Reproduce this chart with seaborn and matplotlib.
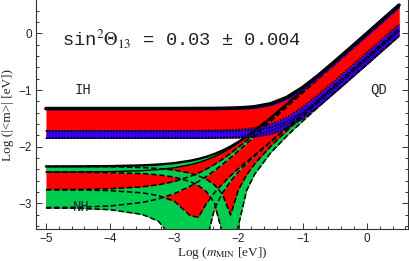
import matplotlib
matplotlib.use("Agg")
import matplotlib.pyplot as plt
from matplotlib.ticker import MultipleLocator
import numpy as np
import seaborn as sns

# log10 of the lightest neutrino mass [eV]
log_mmin = [-5, -4.5, -4, -3.5, -3.25, -3, -2.75, -2.625, -2.5, -2.375, -2.25, -2.125,
            -2, -1.875, -1.75, -1.5, -1.25, -1, -0.75, -0.5, -0.25, 0, 0.25, 0.5]

# inverted hierarchy, log10 <m> [eV]: upper band and lower band edges
ih_top_hi = [-1.3277, -1.3277, -1.3277, -1.3276, -1.3275, -1.3273, -1.3269, -1.3265, -1.3259, -1.3249,
             -1.3232, -1.3205, -1.3160, -1.3083, -1.2957, -1.2434, -1.1325, -0.9555, -0.7349, -0.4951,
             -0.2484, 0.0005, 0.2501, 0.5000]
ih_top_lo = [-1.3451, -1.3451, -1.3451, -1.3451, -1.3452, -1.3452, -1.3451, -1.3452, -1.3450, -1.3446,
             -1.3437, -1.3420, -1.3388, -1.3329, -1.3225, -1.2758, -1.1706, -0.9975, -0.7787, -0.5396,
             -0.2931, -0.0443, 0.2054, 0.4553]
ih_bot_hi = [-1.7200, -1.7200, -1.7199, -1.7195, -1.7191, -1.7184, -1.7170, -1.7158, -1.7142, -1.7118,
             -1.7084, -1.7033, -1.6957, -1.6842, -1.6668, -1.6028, -1.4800, -1.2952, -1.0712, -0.8301,
             -0.5830, -0.3340, -0.0843, 0.1656]
ih_bot_lo = [-1.8505, -1.8505, -1.8506, -1.8506, -1.8507, -1.8508, -1.8508, -1.8508, -1.8506, -1.8502,
             -1.8494, -1.8477, -1.8445, -1.8387, -1.8284, -1.7818, -1.6769, -1.5039, -1.2852, -1.0461,
             -0.7996, -0.5507, -0.3011, -0.0512]
ih_mid_a = [-1.7201, -1.7201, -1.7201, -1.7203, -1.7204, -1.7207, -1.7210, -1.7212, -1.7213, -1.7213,
            -1.7210, -1.7200, -1.7178, -1.7131, -1.7043, -1.6616, -1.5608, -1.3907, -1.1733, -0.9346,
            -0.6884, -0.4395, -0.1899, 0.0600]
ih_mid_b = [-1.8505, -1.8505, -1.8504, -1.8500, -1.8495, -1.8486, -1.8470, -1.8457, -1.8439, -1.8412,
            -1.8375, -1.8320, -1.8238, -1.8116, -1.7934, -1.7272, -1.6024, -1.4164, -1.1917, -0.9505,
            -0.7034, -0.4543, -0.2046, 0.0453]

# normal hierarchy, log10 <m> [eV]: the four CP-conserving lines, two parameter sets each
nh_l1_a = [-2.4492, -2.4474, -2.4419, -2.4246, -2.4056, -2.3731, -2.3192, -2.2812, -2.2338, -2.1759,
           -2.1066, -2.0257, -1.9338, -1.8326, -1.7239, -1.4920, -1.2494, -1.0022, -0.7531, -0.5035,
           -0.2536, -0.0036, 0.2464, 0.4964]
nh_l1_b = [-2.3493, -2.3480, -2.3438, -2.3308, -2.3163, -2.2911, -2.2484, -2.2175, -2.1783, -2.1293,
           -2.0693, -1.9975, -1.9140, -1.8202, -1.7177, -1.4941, -1.2558, -1.0103, -0.7620, -0.5125,
           -0.2627, -0.0127, 0.2373, 0.4873]
nh_l2_a = [-2.4508, -2.4526, -2.4582, -2.4765, -2.4980, -2.5383, -2.6177, -2.6869, -2.7959, -2.9918,
           -3.5398, -3.2059, -2.7559, -2.4995, -2.3056, -1.9929, -1.7202, -1.4621, -1.2093, -0.9584,
           -0.7081, -0.4581, -0.2080, 0.0420]
nh_l2_b = [-2.3505, -2.3518, -2.3560, -2.3696, -2.3852, -2.4139, -2.4681, -2.5126, -2.5770, -2.6754,
           -2.8415, -3.2146, -3.3850, -2.7762, -2.4883, -2.1087, -1.8136, -1.5474, -1.2919, -1.0401,
           -0.7895, -0.5393, -0.2892, -0.0393]
nh_l3_a = [-2.7582, -2.7546, -2.7434, -2.7095, -2.6735, -2.6152, -2.5252, -2.4657, -2.3954, -2.3140,
           -2.2217, -2.1194, -2.0088, -1.8919, -1.7706, -1.5221, -1.2712, -1.0206, -0.7702, -0.5202,
           -0.2701, -0.0201, 0.2299, 0.4799]
nh_l3_b = [-3.0762, -3.0692, -3.0477, -2.9857, -2.9236, -2.8298, -2.6976, -2.6160, -2.5243, -2.4229,
           -2.3127, -2.1951, -2.0717, -1.9446, -1.8156, -1.5570, -1.3014, -1.0487, -0.7977, -0.5474,
           -0.2973, -0.0473, 0.2027, 0.4527]
nh_l4_a = [-2.7616, -2.7652, -2.7769, -2.8158, -2.8642, -2.9643, -3.2213, -3.6115, -3.6704, -3.0983,
           -2.8145, -2.6103, -2.4435, -2.2974, -2.1629, -1.9094, -1.6615, -1.4132, -1.1638, -0.9141,
           -0.6642, -0.4142, -0.1642, 0.0858]
nh_l4_b = [-3.0828, -3.0900, -3.1136, -3.1972, -3.3153, -3.6582, -3.6304, -3.2463, -3.0025, -2.8134,
           -2.6540, -2.5132, -2.3849, -2.2643, -2.1478, -1.9167, -1.6800, -1.4363, -1.1888, -0.9396,
           -0.6899, -0.4399, -0.1900, 0.0600]
# grid points where a band reaches <m> = 0
nh_l2_zero = [-2.125]
nh_l4_zero = [-2.75, -2.625]

FLOOR = -4.0
RED = "#ff0000"
GREEN = "#00cc50"
BLUE = "#3300e6"

sns.set_theme(style="ticks")
plt.rcParams["font.family"] = ["Liberation Sans", "DejaVu Sans"]
plt.rcParams["mathtext.fontset"] = "stix"

x = np.array(log_mmin)


def band(a, b, zero_x=()):
    a, b = np.asarray(a), np.asarray(b)
    lo, hi = np.minimum(a, b), np.maximum(a, b)
    lo[np.isin(x, zero_x)] = FLOOR
    return lo, hi


def line(ax, y, color="black", lw=1.0, ls="-"):
    sns.lineplot(x=x, y=np.asarray(y), ax=ax, color=color, linewidth=lw,
                 linestyle=ls, estimator=None, sort=False, legend=False)


fig = plt.figure(figsize=(4.09, 2.61), dpi=100)
ax = fig.add_axes([36 / 409, 31.7 / 261, 372 / 409, 229.3 / 261])

# normal hierarchy
l1 = band(nh_l1_a, nh_l1_b)
l2 = band(nh_l2_a, nh_l2_b, nh_l2_zero)
l3 = band(nh_l3_a, nh_l3_b)
l4 = band(nh_l4_a, nh_l4_b, nh_l4_zero)
nh_floor = np.minimum(l2[0], l4[0])
ax.fill_between(x, nh_floor, l1[1], color=RED, lw=0)
for lo, hi in (l1, l2, l3, l4):
    ax.fill_between(x, lo, hi, color=GREEN, lw=0)

# inverted hierarchy
ax.fill_between(x, ih_bot_lo, ih_top_hi, color=RED, lw=0)
ax.fill_between(x, ih_top_lo, ih_top_hi, color=BLUE, lw=0)
ax.fill_between(x, ih_bot_lo, ih_bot_hi, color=BLUE, lw=0)

dash = (0, (3.5, 1.8))
for lo, hi in (l2, l3, l4):
    line(ax, lo, lw=1.1, ls=dash)
    line(ax, hi, lw=1.1, ls=dash)
line(ax, l1[0], lw=1.0)
line(ax, l1[1], lw=1.7)

dot = (0, (1, 1))
line(ax, ih_mid_a, color=BLUE, lw=0.9)
line(ax, ih_mid_b, color=BLUE, lw=0.9)
for y in (ih_bot_hi, ih_bot_lo, ih_mid_a, ih_mid_b):
    line(ax, y, lw=1.1, ls=dot)
line(ax, ih_top_lo, color=BLUE, lw=1.0)
line(ax, ih_top_hi, lw=2.6)

ax.set_xlim(-5.155, 0.64)
ax.set_ylim(-3.46, 0.59)
ax.set_xticks([-5, -4, -3, -2, -1, 0])
ax.set_yticks([-3, -2, -1, 0])
ax.xaxis.set_minor_locator(MultipleLocator(0.2))
ax.yaxis.set_minor_locator(MultipleLocator(0.2))
ax.tick_params(which="both", direction="in", top=False, right=True, width=0.7, color="#333333",
               labelsize=8.5, labelcolor="#222222", pad=3)
ax.tick_params(which="major", length=4.5)
ax.tick_params(which="minor", length=2.5)
ax.spines["top"].set_visible(False)
for s in ("left", "right", "bottom"):
    ax.spines[s].set_linewidth(0.8)
    ax.spines[s].set_color("#333333")

serif = ["Liberation Serif", "DejaVu Serif"]
ax.set_xlabel(r"Log ($m_{\mathrm{MIN}}$ [eV])", family=serif, fontsize=9.5, labelpad=0)
ax.set_ylabel("Log (|<m>| [eV])", family=serif, fontsize=9.5, labelpad=3)

mono = ["Liberation Mono", "DejaVu Sans Mono"]
ax.text(-4.756, -0.21, r"sin$^2\Theta_{13}$ = 0.03 ± 0.004", family=mono, fontsize=13.5,
        color="#222222", va="baseline")
ax.text(-4.55, -1.075, "IH", family=mono, fontsize=10, color="#222222", va="baseline")
ax.text(-4.58, -3.13, "NH", family=mono, fontsize=10, color="#222222", va="baseline")
ax.text(0.05, -1.07, "QD", family=mono, fontsize=10, color="#222222", va="baseline")

fig.savefig("out.png", dpi=100)
